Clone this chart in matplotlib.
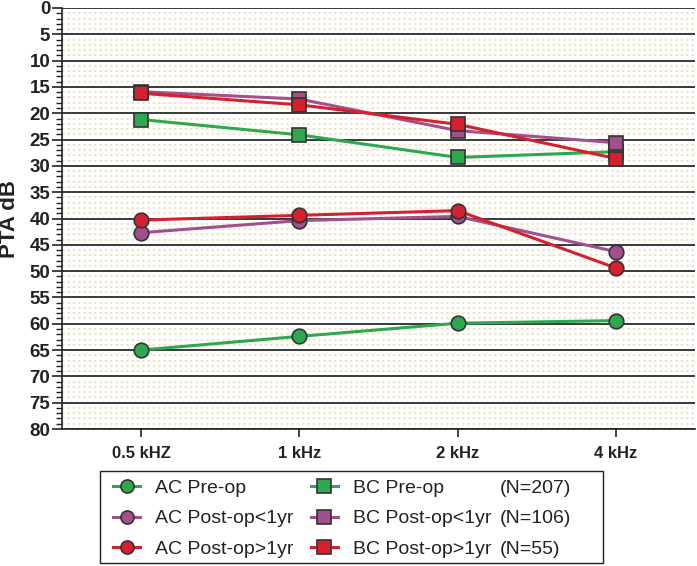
import matplotlib
matplotlib.use('Agg')
from matplotlib import pyplot as plt
from matplotlib.lines import Line2D
from matplotlib.patches import Rectangle
from matplotlib.ticker import MultipleLocator

plt.rcParams['font.family'] = ['Liberation Sans', 'DejaVu Sans']

# data
freqs = ['0.5 kHZ', '1 kHz', '2 kHz', '4 kHz']
ac_pre = [65.0, 62.4, 59.9, 59.4]
ac_post_lt1 = [42.7, 40.4, 39.6, 46.3]
ac_post_gt1 = [40.3, 39.4, 38.5, 49.4]
bc_pre = [21.2, 24.1, 28.4, 27.3]
bc_post_lt1 = [15.9, 17.3, 23.3, 25.6]
bc_post_gt1 = [16.2, 18.4, 22.1, 28.6]
n_labels = ['(N=207)', '(N=106)', '(N=55)']

green = '#2ea84f'
purple = '#a24f8d'
red = '#d5202e'
edge = '#333333'

fig = plt.figure(figsize=(6.97, 5.66), dpi=100)
ax = fig.add_axes([62/697, 1 - 429/566, 633/697, 421/566])

xs = list(range(len(freqs)))

# minor dotted grid + major grid
ax.yaxis.set_major_locator(MultipleLocator(5))
ax.yaxis.set_minor_locator(MultipleLocator(1))
ax.grid(axis='y', which='minor', color='#efe6cd', linestyle=(0, (1.2, 1.2)), linewidth=1.6)
ax.grid(axis='y', which='major', color='#2a2a2a', linestyle='-', linewidth=1.3)
ax.set_axisbelow(True)

series = [
    (bc_pre, 's', green, 'BC Pre-op'),
    (bc_post_lt1, 's', purple, 'BC Post-op<1yr'),
    (bc_post_gt1, 's', red, 'BC Post-op>1yr'),
    (ac_pre, 'o', green, 'AC Pre-op'),
    (ac_post_lt1, 'o', purple, 'AC Post-op<1yr'),
    (ac_post_gt1, 'o', red, 'AC Post-op>1yr'),
]
handles = {}
for vals, mk, col, lab in series:
    h, = ax.plot(xs, vals, color=col, linewidth=2.2, marker=mk, markersize=10.5,
                 markerfacecolor=col, markeredgecolor=edge, markeredgewidth=1.2,
                 label=lab, zorder=3)
    handles[lab] = h

ax.set_xlim(-0.5, 3.5)
ax.set_ylim(80, 0)
ax.set_xticks(xs)
ax.set_xticklabels(freqs, fontsize=12, fontweight='bold', color='#222222')
ax.set_yticks(range(0, 81, 5))
ax.set_yticklabels([str(v) for v in range(0, 81, 5)], fontsize=13.5, fontweight='bold', color='#222222')
ax.tick_params(axis='y', which='major', length=7, width=1.2, pad=1.5, color='#222222')
ax.tick_params(axis='y', which='minor', length=4, width=1, color='#222222')
ax.tick_params(axis='x', which='major', length=6, width=1.2, pad=6, color='#222222')

for side in ['top', 'right']:
    ax.spines[side].set_visible(False)
ax.spines['left'].set_linewidth(1.2)
ax.spines['bottom'].set_linewidth(1.2)
ax.spines['left'].set_color('#222222')
ax.spines['bottom'].set_color('#222222')

ax.set_ylabel('PTA dB', fontsize=16, fontweight='bold', color='#222222')
ax.yaxis.set_label_coords(-0.066, 0.5)

# legend frame
fig.add_artist(Rectangle((100/697, 1 - 563/566), 503/697, 92/566, transform=fig.transFigure,
                         fill=False, edgecolor='#222222', linewidth=1.0))

order = ['AC Pre-op', 'AC Post-op<1yr', 'AC Post-op>1yr',
         'BC Pre-op', 'BC Post-op<1yr', 'BC Post-op>1yr']
leg = fig.legend([handles[k] for k in order], order, ncol=2, loc='upper left',
                 bbox_to_anchor=(113/697, 1 - 479/566), frameon=False, fontsize=14,
                 borderpad=0, borderaxespad=0, handlelength=1.4, handletextpad=0.75,
                 columnspacing=0.9, labelspacing=0.68, markerscale=0.9)
for t in leg.get_texts():
    t.set_color('#222222')

blank = [Line2D([], [], linestyle='none') for _ in n_labels]
leg2 = fig.legend(blank, n_labels, loc='upper left', bbox_to_anchor=(500/697, 1 - 479/566),
                  frameon=False, fontsize=14, borderpad=0, borderaxespad=0,
                  handlelength=0, handletextpad=0, labelspacing=0.68)
for t in leg2.get_texts():
    t.set_color('#222222')

fig.savefig('out.png', dpi=100)
